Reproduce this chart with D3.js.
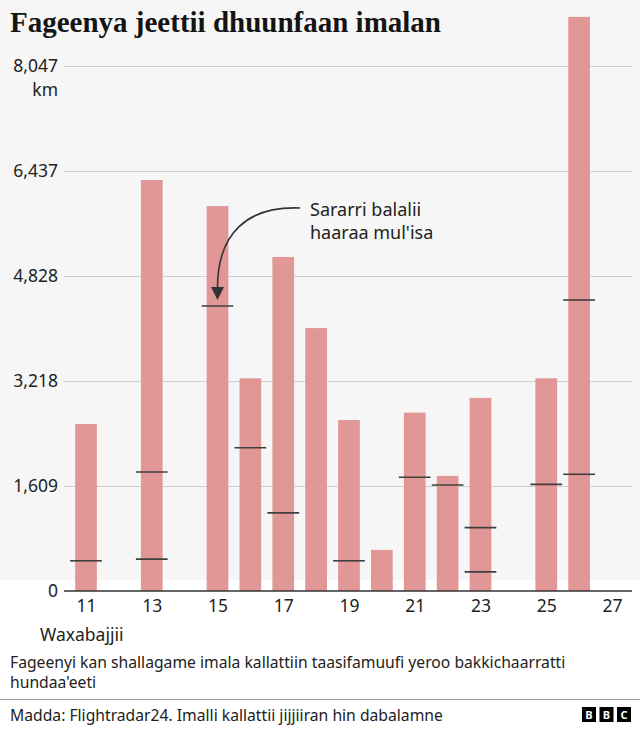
<!DOCTYPE html>
<html>
<head>
<meta charset="utf-8">
<script src="https://cdn.jsdelivr.net/npm/d3@7"></script>
<style>
  html, body { margin: 0; padding: 0; background: #fff; }
  svg { display: block; }
</style>
</head>
<body>
<div id="chart"></div>
<script>
// Flight distances per day (km), June
const days = [11, 13, 15, 16, 17, 18, 19, 20, 21, 22, 23, 25, 26];
const distances = [2560, 6300, 5900, 3260, 5120, 4030, 2620, 630, 2735, 1765, 2960, 3260, 8800];

// short marks inside the bars
const markerDays = [11, 13, 13, 15, 16, 17, 19, 21, 22, 23, 23, 25, 26, 26];
const markerValues = [463, 1825, 488, 4368, 2195, 1198, 463, 1743, 1624, 972, 293, 1635, 4460, 1789];

const xTicks = [11, 13, 15, 17, 19, 21, 23, 25, 27];
const yTicks = [0, 1609, 3218, 4828, 6437, 8047];

const title = 'Fageenya jeettii dhuunfaan imalan';
const monthLabel = 'Waxabajjii';
const unitLabel = 'km';
const noteLines = ['Fageenyi kan shallagame imala kallattiin taasifamuufi yeroo bakkichaarratti', "hundaa'eeti"];
const sourceText = 'Madda: Flightradar24. Imalli kallattii jijjiiran hin dabalamne';
const annotationLines = ['Sararri balalii', "haaraa mul'isa"];

const W = 640, H = 730;
const sans = "'Noto Sans', 'Open Sans', sans-serif";

const svg = d3.select('#chart').append('svg')
    .attr('width', W)
    .attr('height', H)
    .attr('viewBox', [0, 0, W, H]);

// grey panel behind title + plot
svg.append('rect')
    .attr('x', 0).attr('y', 0)
    .attr('width', W).attr('height', 580)
    .attr('fill', '#f6f6f6');

// -------- Scales --------
const x = d3.scaleLinear().domain([11, 27]).range([86, 612]);
const y = d3.scaleLinear().domain([0, 8047]).range([591, 66]);
const barW = (x(12) - x(11)) * 0.66;

// -------- Title --------
svg.append('text')
    .attr('x', 10).attr('y', 32)
    .attr('font-family', "'Liberation Serif', 'DejaVu Serif', serif")
    .attr('font-weight', 'bold')
    .attr('font-size', 29)
    .attr('fill', '#141414')
    .text(title);

// -------- Gridlines + Y labels --------
const yAxis = svg.append('g')
    .attr('transform', 'translate(64,0)')
    .call(d3.axisLeft(y).tickValues(yTicks).tickSize(-568).tickPadding(6).tickFormat(d3.format(',')));
yAxis.select('.domain').remove();
yAxis.selectAll('.tick line')
    .attr('stroke', d => d === 0 ? 'none' : '#cfcfcf')
    .attr('stroke-width', 1);
yAxis.selectAll('.tick text')
    .attr('font-family', sans)
    .attr('font-size', 17.5)
    .attr('fill', '#222');

svg.append('text')
    .attr('x', 58).attr('y', y(8047) + 30)
    .attr('text-anchor', 'end')
    .attr('font-family', sans)
    .attr('font-size', 17.5)
    .attr('fill', '#222')
    .text(unitLabel);

// -------- Bars --------
svg.append('g')
    .selectAll('rect')
    .data(days.map((d, i) => ({ day: d, value: distances[i] })))
    .join('rect')
    .attr('x', d => x(d.day) - barW / 2)
    .attr('y', d => y(d.value))
    .attr('width', barW)
    .attr('height', d => y(0) - y(d.value))
    .attr('fill', '#e29797');

// -------- Markers --------
svg.append('g')
    .selectAll('line')
    .data(markerDays.map((d, i) => ({ day: d, value: markerValues[i] })))
    .join('line')
    .attr('x1', d => x(d.day) - barW / 2 - 5)
    .attr('x2', d => x(d.day) + barW / 2 + 5)
    .attr('y1', d => y(d.value))
    .attr('y2', d => y(d.value))
    .attr('stroke', '#3f3f3f')
    .attr('stroke-width', 1.6);

// -------- X axis --------
const xAxis = svg.append('g')
    .attr('transform', `translate(0,${y(0)})`)
    .call(d3.axisBottom(x).tickValues(xTicks).tickSize(0).tickPadding(9).tickFormat(d3.format('d')));
xAxis.select('.domain').remove();
xAxis.selectAll('.tick text')
    .attr('font-family', sans)
    .attr('font-size', 17.5)
    .attr('fill', '#222');

svg.append('line')
    .attr('x1', 64).attr('x2', 632)
    .attr('y1', y(0)).attr('y2', y(0))
    .attr('stroke', '#333')
    .attr('stroke-width', 1.5);

svg.append('text')
    .attr('x', 40).attr('y', 641)
    .attr('font-family', sans)
    .attr('font-size', 17.5)
    .attr('fill', '#222')
    .text(monthLabel);

// -------- Annotation --------
const tipX = x(15), tipY = y(4368) - 6;
const startX = 300, startY = 208;
svg.append('path')
    .attr('d', `M${startX},${startY} C${tipX + 30},${startY - 2} ${tipX},${startY + 25} ${tipX},${tipY - 12}`)
    .attr('fill', 'none')
    .attr('stroke', '#333')
    .attr('stroke-width', 1.6);
svg.append('path')
    .attr('d', `M${tipX - 6.5},${tipY - 13} L${tipX + 6.5},${tipY - 13} L${tipX},${tipY} Z`)
    .attr('fill', '#333');

svg.append('g')
    .selectAll('text')
    .data(annotationLines)
    .join('text')
    .attr('x', 310)
    .attr('y', (d, i) => 216 + i * 23)
    .attr('font-family', sans)
    .attr('font-size', 18)
    .attr('fill', '#222')
    .text(d => d);

// -------- Note + source --------
svg.append('g')
    .selectAll('text')
    .data(noteLines)
    .join('text')
    .attr('x', 10)
    .attr('y', (d, i) => 668 + i * 20)
    .attr('font-family', sans)
    .attr('font-size', 15.7)
    .attr('fill', '#222')
    .text(d => d);

svg.append('line')
    .attr('x1', 0).attr('x2', W)
    .attr('y1', 699.5).attr('y2', 699.5)
    .attr('stroke', '#9a9a9a')
    .attr('stroke-width', 1);

svg.append('text')
    .attr('x', 10).attr('y', 721)
    .attr('font-family', sans)
    .attr('font-size', 15.7)
    .attr('fill', '#222')
    .text(sourceText);

// BBC blocks
const logo = svg.append('g').attr('transform', 'translate(582,707)');
['B', 'B', 'C'].forEach((ch, i) => {
    logo.append('rect')
        .attr('x', i * 17.5).attr('y', 0)
        .attr('width', 14).attr('height', 15)
        .attr('fill', '#000');
    logo.append('text')
        .attr('x', i * 17.5 + 7).attr('y', 12)
        .attr('text-anchor', 'middle')
        .attr('font-family', sans)
        .attr('font-weight', 'bold')
        .attr('font-size', 11)
        .attr('fill', '#fff')
        .text(ch);
});
</script>
</body>
</html>
